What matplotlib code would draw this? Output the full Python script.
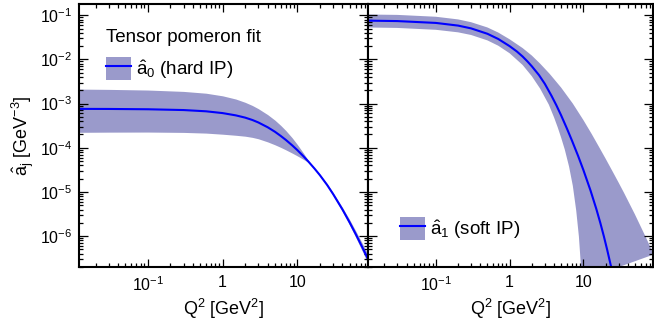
import numpy as np
import matplotlib
matplotlib.use("Agg")
import matplotlib.pyplot as plt
from matplotlib.patches import Patch
from matplotlib.lines import Line2D
from matplotlib.ticker import LogLocator, FuncFormatter, NullFormatter

plt.rcParams["font.family"] = ["Liberation Sans", "DejaVu Sans"]
plt.rcParams["mathtext.fontset"] = "custom"
plt.rcParams["mathtext.rm"] = "Liberation Sans"
plt.rcParams["mathtext.it"] = "Liberation Sans:italic"
plt.rcParams["mathtext.bf"] = "Liberation Sans:bold"

# hard pomeron coefficient a0(Q^2): central value and fit band
q2_hard = [0.012, 0.03, 0.1, 0.3, 0.6, 1.0, 1.5, 2.0, 2.5, 3.0, 4.0, 5.0, 6.0,
           7.0, 8.5, 10.0, 12.0, 14.0, 17.0, 20.0, 25.0, 30.0, 40.0, 50.0,
           60.0, 75.0, 90.0]
a0_mid = [7.6e-4, 7.57e-4, 7.45e-4, 7.15e-4, 6.7e-4, 6.1e-4, 5.42e-4, 4.82e-4,
          4.26e-4, 3.75e-4, 2.92e-4, 2.31e-4, 1.85e-4, 1.51e-4, 1.14e-4, 8.84e-5,
          6.48e-5, 4.9e-5, 3.36e-5, 2.4e-5, 1.44e-5, 9.0e-6, 4.03e-6, 2.04e-6,
          1.13e-6, 5.3e-7, 2.8e-7]
a0_hi = [2.13e-3, 2.1e-3, 2.03e-3, 1.89e-3, 1.72e-3, 1.5e-3, 1.27e-3, 1.07e-3,
         9.07e-4, 7.69e-4, 5.64e-4, 4.23e-4, 3.2e-4, 2.46e-4, 1.69e-4, 1.18e-4,
         7.65e-5, 5.15e-5, 3.43e-5, 2.5e-5, 1.53e-5, 9.72e-6, 4.47e-6, 2.35e-6,
         1.33e-6, 6.52e-7, 3.58e-7]
a0_lo = [2.24e-4, 2.26e-4, 2.27e-4, 2.23e-4, 2.15e-4, 2.03e-4, 1.92e-4, 1.83e-4,
         1.72e-4, 1.6e-4, 1.36e-4, 1.17e-4, 1.02e-4, 8.99e-5, 7.6e-5, 6.55e-5,
         5.49e-5, 4.67e-5, 3.29e-5, 2.31e-5, 1.36e-5, 8.33e-6, 3.63e-6, 1.77e-6,
         9.58e-7, 4.31e-7, 2.19e-7]

# soft pomeron coefficient a1(Q^2): central curve and band edges
q2_soft_mid = [0.012, 0.03, 0.1, 0.2, 0.3, 0.5, 0.7, 1.0, 1.25, 1.5, 1.75, 2.0,
               2.5, 3.0, 3.7, 4.3, 5.0, 6.0, 7.0, 8.5, 10.0, 12.5, 15.0, 17.0,
               19.0, 21.0, 23.6, 25.0]
a1_mid = [7.56e-2, 7.39e-2, 6.71e-2, 5.84e-2, 5.05e-2, 3.81e-2, 2.91e-2, 2.0e-2,
          1.52e-2, 1.165e-2, 8.97e-3, 7.0e-3, 4.43e-3, 2.81e-3, 1.5e-3, 9.2e-4,
          5.4e-4, 2.7e-4, 1.46e-4, 6.5e-5, 3.15e-5, 1.08e-5, 4.1e-6, 1.98e-6,
          9.8e-7, 4.97e-7, 2.14e-7, 1.39e-7]
q2_soft_hi = [0.012, 0.03, 0.1, 0.2, 0.3, 0.5, 0.7, 1.0, 1.5, 2.0, 2.6, 3.5,
              5.0, 7.2, 10.0, 13.0, 16.5, 20.0, 25.0, 30.0, 35.7, 50.0, 70.0, 90.0]
a1_hi = [0.104, 0.102, 0.0926, 0.0806, 0.0697, 0.053, 0.0407, 0.0286, 0.0181,
         0.01225, 8.0e-3, 4.7e-3, 2.3e-3, 1.0e-3, 4.25e-4, 2.04e-4, 1.01e-4,
         5.7e-5, 2.88e-5, 1.64e-5, 9.46e-6, 3.11e-6, 9.6e-7, 3.84e-7]
q2_soft_lo = [0.012, 0.03, 0.1, 0.2, 0.3, 0.5, 0.7, 1.0, 1.5, 2.0, 2.6, 3.4,
              4.0, 4.5, 5.0, 5.6, 6.4, 7.2, 8.0, 8.7, 9.3, 9.6]
a1_lo = [5.29e-2, 5.17e-2, 4.69e-2, 4.11e-2, 3.58e-2, 2.7e-2, 2.05e-2, 1.38e-2,
         7.5e-3, 4.17e-3, 2.17e-3, 9.5e-4, 4.9e-4, 2.87e-4, 1.69e-4, 9.1e-5,
         3.75e-5, 1.37e-5, 3.8e-6, 9.8e-7, 1.96e-7, 1.0e-7]

band_color = "#9a9acb"
line_color = "#0000ff"
W, H = 654, 330

fig = plt.figure(figsize=(W / 100, H / 100), dpi=100)
bottom, top = (H - 267) / H, (H - 4) / H
ax0 = fig.add_axes([79 / W, bottom, (368 - 79) / W, top - bottom])
ax1 = fig.add_axes([368 / W, bottom, (653 - 368) / W, top - bottom], sharey=ax0)

# hard IP panel
ax0.fill_between(q2_hard, a0_lo, a0_hi, color=band_color, lw=0)
ax0.plot(q2_hard, a0_mid, color=line_color, lw=1.5)

# soft IP panel: band edges sit on different grids, so close them as one polygon
xs = list(q2_soft_hi) + list(q2_soft_lo[::-1])
ys = list(a1_hi) + list(a1_lo[::-1])
ax1.fill(xs, ys, color=band_color, lw=0)
ax1.plot(q2_soft_mid, a1_mid, color=line_color, lw=1.5)


def xfmt(v, pos):
    if abs(v - 0.1) < 1e-9:
        return r"$10^{-1}$"
    if abs(v - 1) < 1e-9:
        return "1"
    if abs(v - 10) < 1e-9:
        return "10"
    return ""


for ax in (ax0, ax1):
    ax.set_xscale("log")
    ax.set_yscale("log")
    ax.set_xlim(0.012, 88)
    ax.set_ylim(2.0e-7, 0.18)
    ax.xaxis.set_major_locator(LogLocator(base=10, numticks=10))
    ax.xaxis.set_minor_locator(LogLocator(base=10, subs=np.arange(2, 10), numticks=20))
    ax.xaxis.set_major_formatter(FuncFormatter(xfmt))
    ax.xaxis.set_minor_formatter(NullFormatter())
    ax.yaxis.set_minor_locator(LogLocator(base=10, subs=np.arange(2, 10), numticks=20))
    ax.yaxis.set_minor_formatter(NullFormatter())
    ax.tick_params(axis="both", which="both", direction="in", top=True, right=True,
                   labelsize=11.5, width=0.9, color="black")
    ax.tick_params(axis="x", which="major", length=5.8, pad=6)
    ax.tick_params(axis="x", which="minor", length=3.2)
    ax.tick_params(axis="y", which="major", length=6.5, pad=5)
    ax.tick_params(axis="y", which="minor", length=3.2)
    for sp in ax.spines.values():
        sp.set_linewidth(1.5)
    ax.set_xlabel(r"Q$^2$ [GeV$^2$]", fontsize=13, labelpad=2)

ax1.tick_params(axis="y", labelleft=False)
ax0.set_ylabel(r"$\hat{\mathrm{a}}_{\mathrm{j}}$ [GeV$^{-3}$]", fontsize=13, labelpad=3)

h0 = (Patch(facecolor=band_color, edgecolor="none"), Line2D([], [], color=line_color, lw=1.5))
ax0.legend([h0], [r"$\hat{\mathrm{a}}_0$ (hard IP)"], title="Tensor pomeron fit",
           alignment="left", frameon=False, fontsize=13.5, title_fontsize=13.5,
           loc="upper left", bbox_to_anchor=(106 / W, 1 - 29 / H),
           bbox_transform=fig.transFigure, borderpad=0, borderaxespad=0,
           handlelength=1.35, handleheight=1.55, handletextpad=0.25,
           labelspacing=0.58)

h1 = (Patch(facecolor=band_color, edgecolor="none"), Line2D([], [], color=line_color, lw=1.5))
ax1.legend([h1], [r"$\hat{\mathrm{a}}_1$ (soft IP)"], frameon=False, fontsize=13.5,
           loc="upper left", bbox_to_anchor=(400 / W, 1 - 217 / H),
           bbox_transform=fig.transFigure, borderpad=0, borderaxespad=0,
           handlelength=1.35, handleheight=1.55, handletextpad=0.25)

fig.savefig("out.png", dpi=100)
